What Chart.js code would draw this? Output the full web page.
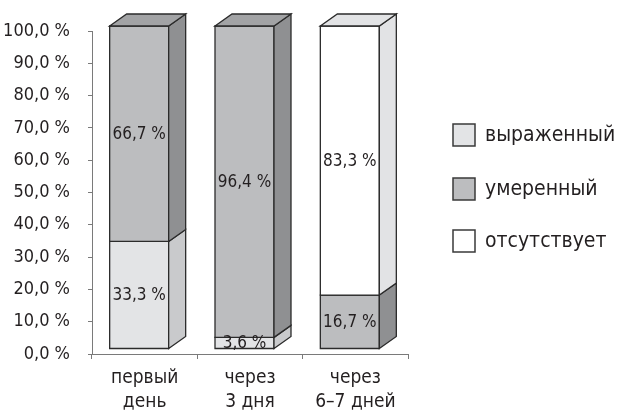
<!DOCTYPE html>
<html>
<head>
<meta charset="utf-8">
<script src="https://cdn.jsdelivr.net/npm/chart.js@4.4.1/dist/chart.umd.min.js"></script>
<style>
  html, body { margin: 0; padding: 0; background: #ffffff; }
  #wrap { width: 621px; height: 414px; }
</style>
</head>
<body>
<div id="wrap"><canvas id="c" width="621" height="414"></canvas></div>
<script>
// Categories (two-line labels) and the three stacked series, in percent
const categories = [['первый', 'день'], ['через', '3 дня'], ['через', '6–7 дней']];
const seriesNames = ['выраженный', 'умеренный', 'отсутствует'];
const pronounced = [33.3, 3.6, 0];
const moderate = [66.7, 96.4, 16.7];
const absent = [0, 0, 83.3];

const FONT = "'DejaVu Sans Condensed', 'Liberation Sans', sans-serif";
const INK = '#231f20';
const EDGE = '#2b2b2b';

// Shading of the three visible faces of each box
const faces = [
  { front: '#e3e4e6', side: '#c9cacc', top: '#d7d8da' },
  { front: '#bcbdbf', side: '#8f9092', top: '#a2a3a5' },
  { front: '#ffffff', side: '#e2e3e5', top: '#e2e3e5' }
];

// Depth of the boxes and offset of the front plane from the axes
const DEPTH_X = 17, DEPTH_Y = 12, SHIFT_X = -5.5, SHIFT_Y = -5;

const fmt = v => v.toFixed(1).replace('.', ',') + ' %';

const boxes3d = {
  id: 'boxes3d',
  beforeDatasetDraw() { return false; },
  afterDatasetsDraw(chart) {
    const ctx = chart.ctx;
    const n = chart.data.labels.length;
    ctx.save();
    ctx.lineWidth = 1.3;
    ctx.strokeStyle = EDGE;
    ctx.lineJoin = 'miter';
    const labelsToDraw = [];
    for (let j = 0; j < n; j++) {
      // topmost non-empty segment gets the lid
      let topIdx = -1;
      chart.data.datasets.forEach((ds, i) => { if (ds.data[j] > 0) topIdx = i; });
      chart.data.datasets.forEach((ds, i) => {
        const v = ds.data[j];
        if (!(v > 0)) return;
        const el = chart.getDatasetMeta(i).data[j];
        const p = el.getProps(['x', 'y', 'base', 'width'], true);
        const l = p.x - p.width / 2 + SHIFT_X, r = p.x + p.width / 2 + SHIFT_X;
        const t = p.y + SHIFT_Y, b = p.base + SHIFT_Y;
        const f = faces[i];
        // front
        ctx.fillStyle = f.front;
        ctx.beginPath(); ctx.rect(l, t, r - l, b - t); ctx.fill(); ctx.stroke();
        // side
        ctx.fillStyle = f.side;
        ctx.beginPath();
        ctx.moveTo(r, b); ctx.lineTo(r, t);
        ctx.lineTo(r + DEPTH_X, t - DEPTH_Y); ctx.lineTo(r + DEPTH_X, b - DEPTH_Y);
        ctx.closePath(); ctx.fill(); ctx.stroke();
        if (i === topIdx) {
          ctx.fillStyle = f.top;
          ctx.beginPath();
          ctx.moveTo(l, t); ctx.lineTo(l + DEPTH_X, t - DEPTH_Y);
          ctx.lineTo(r + DEPTH_X, t - DEPTH_Y); ctx.lineTo(r, t);
          ctx.closePath(); ctx.fill(); ctx.stroke();
        }
        labelsToDraw.push({ x: (l + r) / 2, y: (t + b) / 2, text: fmt(v) });
      });
    }
    ctx.fillStyle = INK;
    ctx.font = '17px ' + FONT;
    ctx.textAlign = 'center';
    ctx.textBaseline = 'middle';
    labelsToDraw.forEach(o => ctx.fillText(o.text, o.x, o.y + 1));
    ctx.restore();
  },
  afterDraw(chart) {
    // legend on the right
    const ctx = chart.ctx;
    ctx.save();
    ctx.font = '21px ' + FONT;
    ctx.textAlign = 'left';
    ctx.textBaseline = 'middle';
    const rows = [135, 189, 241];
    chart.data.datasets.forEach((ds, i) => {
      const cy = rows[i];
      ctx.fillStyle = ds.backgroundColor;
      ctx.strokeStyle = '#3a3a3a';
      ctx.lineWidth = 1.5;
      ctx.beginPath(); ctx.rect(453, cy - 11, 22, 22); ctx.fill(); ctx.stroke();
      ctx.fillStyle = INK;
      ctx.fillText(ds.label, 485, cy + 1);
    });
    ctx.restore();
  }
};

new Chart(document.getElementById('c'), {
  type: 'bar',
  data: {
    labels: categories,
    datasets: [
      { label: seriesNames[0], data: pronounced, backgroundColor: faces[0].front },
      { label: seriesNames[1], data: moderate, backgroundColor: faces[1].front },
      { label: seriesNames[2], data: absent, backgroundColor: faces[2].front }
    ]
  },
  options: {
    responsive: false,
    animation: false,
    devicePixelRatio: 1,
    barThickness: 59,
    layout: { padding: { left: 0, top: 31, right: 213, bottom: 0 } },
    plugins: { legend: { display: false }, tooltip: { enabled: false } },
    scales: {
      x: {
        stacked: true,
        offset: true,
        grid: { offset: true, drawOnChartArea: false, drawTicks: true, tickLength: 5, color: '#7a7a7a' },
        border: { display: true, color: '#7a7a7a', width: 1 },
        ticks: { color: INK, font: { family: FONT, size: 19, lineHeight: 1.26 }, padding: 7, maxRotation: 0 },
        afterFit: s => { s.height = 60; }
      },
      y: {
        stacked: true,
        min: 0,
        max: 100,
        grid: { drawOnChartArea: false, drawTicks: true, tickLength: 4, color: '#7a7a7a' },
        border: { display: true, color: '#7a7a7a', width: 1 },
        ticks: { stepSize: 10, color: INK, font: { family: FONT, size: 18 }, padding: 18, callback: v => fmt(v) },
        afterFit: s => { s.width = 92; }
      }
    }
  },
  plugins: [boxes3d]
});
</script>
</body>
</html>
